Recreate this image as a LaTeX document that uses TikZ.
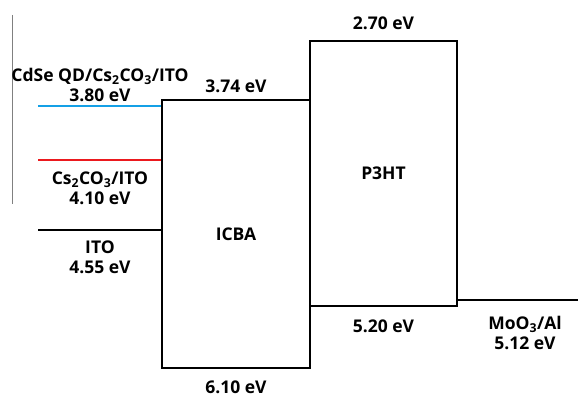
\documentclass[tikz,border=0pt]{standalone}
\usepackage{fontspec}
\setmainfont{Open Sans}
\usepackage{xcolor}
\usepackage{tikz}
\usetikzlibrary{positioning}

\definecolor{qdblue}{RGB}{20,160,230}
\definecolor{csred}{RGB}{235,25,30}

\begin{document}
\begin{tikzpicture}[
  x=1pt, y=1pt,
  node distance=11pt and 0pt,
  every node/.style={font=\fontsize{17.5}{20}\selectfont\bfseries},
  band/.style={rectangle, draw, line width=2.4pt, inner sep=0pt},
  lvl/.style={line width=2.4pt},
  val/.style={align=center, inner sep=1pt},
]
\useasboundingbox (0,0) rectangle (578,397);

\node[band, minimum width=148pt, minimum height=268pt] (icba) at (236,163) {ICBA};
\node[band, minimum width=147pt, minimum height=265pt] (p3ht) at (383.5,223.5) {P3HT};

\coordinate (qd)   at (38,291);
\coordinate (cs)   at (38,237);
\coordinate (ito)  at (38,167);
\coordinate (moo)  at (578,97);
\coordinate (mark) at (12,382);
\coordinate (markend) at (12,193);

\draw[gray, line width=1pt] (mark) -- (markend);
\draw[lvl, draw=qdblue] (qd) -- (qd -| icba.west);
\draw[lvl, draw=csred]  (cs) -- (cs -| icba.west);
\draw[lvl]              (ito) -- (ito -| icba.west);
\draw[lvl]              (p3ht.east |- moo) -- (moo);

\node[val, above=5pt of icba]  (icbalumo) {3.74 eV};
\node[val, below=10pt of icba] (icbahomo) {6.10 eV};
\node[val, above=9pt of p3ht]  (p3htlumo) {2.70 eV};
\node[val, below=of p3ht]      (p3hthomo) {5.20 eV};

\node[val] (qdlab)  at (100,312) {CdSe QD/Cs\textsubscript{2}CO\textsubscript{3}/ITO\\3.80 eV};
\node[val] (cslab)  at (100,209) {Cs\textsubscript{2}CO\textsubscript{3}/ITO\\4.10 eV};
\node[val] (itolab) at (100,140) {ITO\\4.55 eV};
\node[val] (moolab) at (525,64)  {MoO\textsubscript{3}/Al\\5.12 eV};
\end{tikzpicture}
\end{document}
